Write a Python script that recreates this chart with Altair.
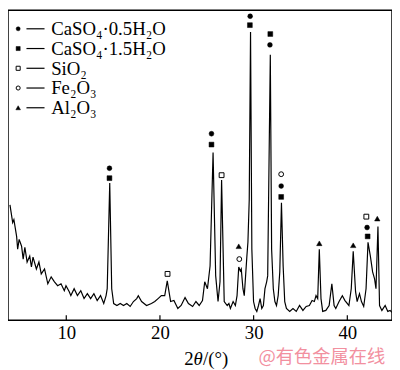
import altair as alt
import pandas as pd

# ---- XRD pattern (2θ in degrees, intensity in arbitrary units) ----
two_theta = [3.99, 4.28, 4.41, 4.70, 4.81, 4.97, 5.23, 5.40, 5.58, 5.82, 6.10, 6.28, 6.45, 6.81, 7.08, 7.33,
             7.68, 8.03, 8.39, 8.74, 9.08, 9.44, 9.79, 9.97, 10.32, 10.49, 10.84, 11.19, 11.55, 11.90, 12.25,
             12.60, 12.95, 13.30, 13.66, 14.00, 14.25, 14.37, 14.64, 14.85, 15.06, 15.41, 15.76, 16.11, 16.46,
             16.82, 17.17, 17.52, 17.69, 18.04, 18.57, 19.09, 19.45, 19.80, 20.15, 20.51, 20.78, 21.14, 21.49,
             21.91, 22.26, 22.68, 23.04, 23.49, 23.84, 24.19, 24.54, 24.78, 25.07, 25.35, 25.67, 25.95, 26.20,
             26.41, 26.58, 26.86, 27.18, 27.36, 27.52, 27.81, 28.05, 28.23, 28.41, 28.58, 28.68, 28.86, 29.00,
             29.10, 29.28, 29.39, 29.53, 29.67, 29.81, 29.99, 30.16, 30.34, 30.52, 30.69, 30.87, 31.04, 31.21,
             31.39, 31.50, 31.78, 31.92, 32.10, 32.27, 32.44, 32.62, 32.79, 32.97, 33.15, 33.32, 33.50, 33.85,
             34.20, 34.55, 34.90, 35.26, 35.61, 35.95, 36.24, 36.48, 36.66, 36.84, 37.01, 37.19, 37.37, 37.71,
             38.06, 38.35, 38.59, 38.77, 39.12, 39.47, 39.75, 40.17, 40.42, 40.63, 40.88, 41.05, 41.30, 41.51,
             41.75, 42.00, 42.21, 42.46, 42.70, 42.91, 43.06, 43.27, 43.44, 43.69, 44.04, 44.32, 44.57, 44.75]
intensity = [117, 99, 102, 85, 72, 82, 75, 62, 74, 59, 65, 54, 64, 52, 59, 47,
             52, 37, 44, 39, 35, 37, 30, 35, 29, 25, 32, 25, 30, 22, 27,
             22, 27, 20, 25, 17, 25, 32, 139, 32, 17, 15, 17, 15, 17,
             14, 19, 22, 25, 19, 15, 17, 19, 22, 25, 25, 40, 19, 20,
             12, 15, 23, 17, 14, 19, 15, 20, 39, 32, 55, 170, 45, 19,
             39, 142, 19, 15, 17, 12, 19, 15, 25, 54, 50, 52, 32, 25,
             39, 65, 79, 122, 292, 72, 19, 12, 9, 15, 22, 12, 15, 32,
             39, 45, 269, 72, 32, 19, 15, 25, 49, 119, 55, 19, 12, 9,
             12, 9, 15, 10, 14, 15, 20, 19, 25, 22, 72, 22, 9, 10,
             15, 37, 15, 12, 19, 25, 20, 15, 32, 70, 29, 19, 27, 19,
             14, 32, 79, 65, 49, 42, 32, 95, 15, 10, 15, 9, 10, 8]

# ---- phase markers above peaks ----
phases = ["CaSO₄·0.5H₂O", "CaSO₄·1.5H₂O", "SiO₂", "Fe₂O₃", "Al₂O₃"]
mk_theta = [14.61, 14.61, 20.81, 25.50, 25.50, 26.58, 28.41, 28.47, 29.63, 29.60, 31.78, 31.74,
            32.94, 32.94, 32.94, 37.01, 40.63, 42.17, 42.11, 42.03, 43.20]
mk_int = [154, 144, 47, 189, 178, 147, 75, 62, 308, 299, 290, 279,
          148, 136, 125, 78, 76, 85, 94, 105, 103]
mk_phase = [0, 1, 2, 0, 1, 2, 4, 3, 0, 1, 1, 0,
            3, 0, 1, 4, 4, 1, 0, 2, 4]

tick_values = [10, 20, 30, 40]

# styles per phase: shape, filled
styles = [("circle", True), ("square", True), ("square", False), ("circle", False), ("triangle-up", True)]

W, H = 389, 314
xscale = alt.Scale(domain=[3.78, 44.77], nice=False, zero=False)
yscale = alt.Scale(domain=[0, 314], nice=False, zero=False)
SERIF = "'Liberation Serif', 'Times New Roman', Times, serif"

df = pd.DataFrame({"t": two_theta, "i": intensity, "o": range(len(two_theta))})
mk = pd.DataFrame({"t": mk_theta, "i": mk_int, "p": mk_phase})

line = alt.Chart(df).mark_line(color="black", strokeWidth=1.2, clip=True).encode(
    x=alt.X("t:Q", scale=xscale,
            axis=alt.Axis(values=tick_values, ticks=False, tickSize=0, domain=False, grid=False,
                          labelFont=SERIF, labelFontSize=19, labelColor="black",
                          labelPadding=3, labelFlush=False, title=None)),
    y=alt.Y("i:Q", scale=yscale, axis=None),
    order="o:Q",
)

ticks = alt.Chart(pd.DataFrame({"t": tick_values})).mark_rule(color="black", strokeWidth=1.2).encode(
    x=alt.X("t:Q", scale=xscale), y=alt.value(H), y2=alt.value(H - 5)
)

layers = [line, ticks]

for k, (shape, filled) in enumerate(styles):
    sub = mk[mk["p"] == k]
    size = 30 if shape == "triangle-up" else 24
    pts = alt.Chart(sub).mark_point(
        shape=shape, filled=True, size=size, opacity=1,
        fill="black" if filled else "white", stroke="black", strokeWidth=1 if not filled else 0.5,
    ).encode(x=alt.X("t:Q", scale=xscale), y=alt.Y("i:Q", scale=yscale))
    layers.append(pts)

# ---- legend (drawn inside the plot, top-left) ----
for k, (shape, filled) in enumerate(styles):
    yy = 18.7 + 20.0 * k
    layers.append(alt.Chart(pd.DataFrame({"a": [0]})).mark_point(
        shape=shape, filled=True, size=22 if shape == "triangle-up" else 17, opacity=1,
        fill="black" if filled else "white", stroke="black", strokeWidth=1 if not filled else 0.5,
    ).encode(x=alt.value(10.3), y=alt.value(yy)))
    layers.append(alt.Chart(pd.DataFrame({"a": [0]})).mark_rule(color="black", strokeWidth=1.2).encode(
        x=alt.value(18.7), x2=alt.value(37), y=alt.value(yy)))
    layers.append(alt.Chart(pd.DataFrame({"a": [0]})).mark_text(
        text=phases[k], align="left", baseline="alphabetic", font=SERIF, fontSize=19, color="black",
    ).encode(x=alt.value(43.7), y=alt.value(yy + 6.5)))

# ---- axis title 2θ/(°) with italic θ ----
title_parts = [("2", "normal", 178.5), ("θ", "italic", 188.0), ("/(°)", "normal", 197.5)]
for txt, style, xx in title_parts:
    layers.append(alt.Chart(pd.DataFrame({"a": [0]})).mark_text(
        text=txt, align="left", baseline="alphabetic", font=SERIF, fontSize=19, fontStyle=style,
        color="black",
    ).encode(x=alt.value(xx), y=alt.value(H + 45)))

# ---- watermark ----
layers.append(alt.Chart(pd.DataFrame({"a": [0]})).mark_text(
    text="@有色金属在线", align="left", baseline="alphabetic", font="Noto Sans CJK SC", fontSize=18.5,
    color="#f2909f",
).encode(x=alt.value(253.7), y=alt.value(H + 43)))

chart = alt.layer(*layers).properties(width=W, height=H, padding=0).configure_view(
    stroke="black", strokeWidth=1.5
)

chart.save("out.html", embed_options={"renderer": "svg", "actions": False})
